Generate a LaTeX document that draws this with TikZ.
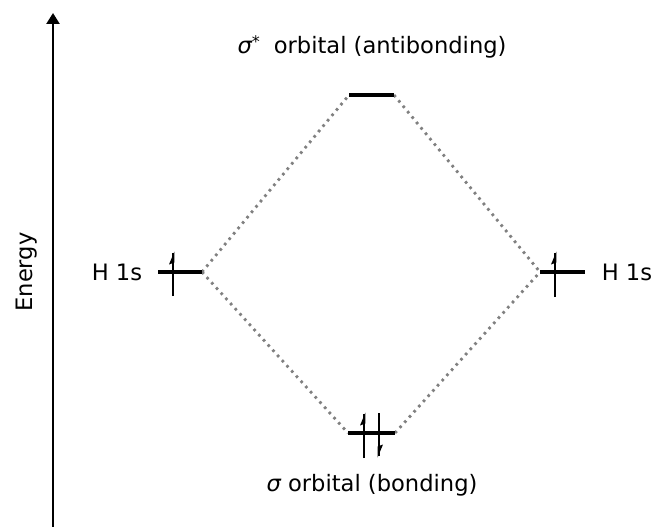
\documentclass[tikz,border=0pt]{standalone}
\usepackage{fontspec}
\setmainfont{DejaVu Sans}
\usetikzlibrary{arrows.meta}
\begin{document}
\begin{tikzpicture}[x=1pt,y=-1pt,
  level/.style={line width=3.4pt},
  spin/.style={line width=2.8pt},
  corr/.style={draw=gray, line width=2.8pt, dash pattern=on 2.6pt off 4.4pt},
  lbl/.style={font=\fontsize{22.6}{27}\selectfont, inner sep=0pt, anchor=base}]
\useasboundingbox (0,0) rectangle (651,527);
% energy axis
\coordinate (axb) at (53,527);
\coordinate (axt) at (53,13);
\draw[line width=2.4pt,-{Triangle[width=13pt,length=11pt]}] (axb) -- (axt);
\node[lbl, rotate=90] (en) at (32,272) {Energy};
% levels
\coordinate (L1) at (158,272); \coordinate (L2) at (202,272);
\coordinate (R1) at (540,272); \coordinate (R2) at (585,272);
\coordinate (B1) at (348,433); \coordinate (B2) at (395,433);
\coordinate (A1) at (349,95);  \coordinate (A2) at (394,95);
% correlation lines
\draw[corr] (L2) -- (A1);
\draw[corr] (A2) -- (R1);
\draw[corr] (L2) -- (B1);
\draw[corr] (B2) -- (R1);
\draw[level] (L1) -- (L2);
\draw[level] (R1) -- (R2);
\draw[level] (B1) -- (B2);
\draw[level] (A1) -- (A2);
% electrons
\draw[spin] (173,296) -- (173,253);
\fill (174.4,251.5) -- (169,264.5) -- (174.4,262.5) -- cycle;
\draw[spin] (555,297) -- (555,253);
\fill (556.4,251.5) -- (551,264.5) -- (556.4,262.5) -- cycle;
\draw[spin] (364,458) -- (364,414);
\fill (365.4,412.5) -- (360,425.5) -- (365.4,423.5) -- cycle;
\draw[spin] (379,413) -- (379,456);
\fill (377.6,457.5) -- (383,444.5) -- (377.6,446.5) -- cycle;
% labels
\node[lbl] (hl) at (117,280) {H 1s};
\node[lbl] (hr) at (627,280) {H 1s};
\node[lbl] (as) at (372,54) {{\itshape σ}\raisebox{0.5ex}{\fontsize{16}{18}\selectfont *}\hspace{0.3em} orbital (antibonding)};
\node[lbl] (bs) at (372,491) {{\itshape σ} orbital (bonding)};
\end{tikzpicture}
\end{document}
